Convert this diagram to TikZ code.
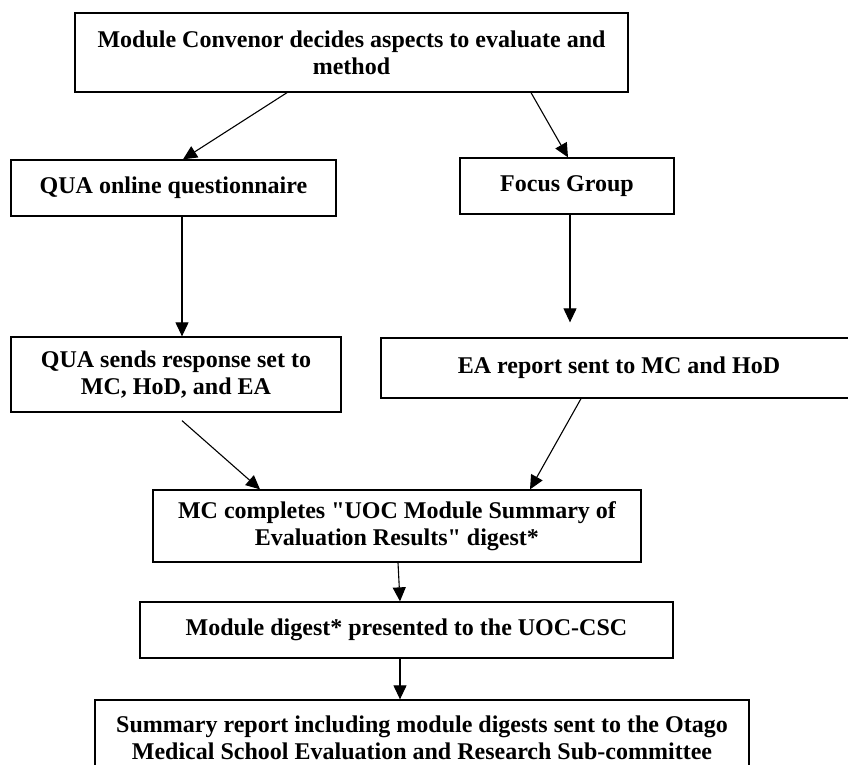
\documentclass[tikz,border=0pt]{standalone}
\usepackage{fontspec}
\setmainfont{Liberation Serif}[Ligatures=TeXOff]
\usetikzlibrary{arrows.meta,calc}
\tikzset{
  box/.style={draw, line width=1.3pt, inner sep=0pt, align=center,
    font=\fontsize{24}{27}\selectfont\bfseries},
  arr/.style={line width=1.1pt, -{Triangle[length=14pt,width=13pt]}}
}
\begin{document}
\begin{tikzpicture}[x=1pt,y=-1pt]
\path[use as bounding box, clip] (0,0) rectangle (848,764);
\fill[white] (0,0) rectangle (848,764);
\node[box, minimum width=553pt, minimum height=79pt] (top) at (351.5,52.5)
  {Module Convenor decides aspects to evaluate and\\method};
\node[box, minimum width=325pt, minimum height=56pt] (qua) at (173.5,188)
  {QUA online questionnaire};
\node[box, minimum width=214pt, minimum height=56pt] (focus) at (567,186)
  {Focus Group};
\node[box, minimum width=330pt, minimum height=75pt] (quas) at (176,374.5)
  {QUA sends response set to\\MC, HoD, and EA};
\node[box, minimum width=476pt, minimum height=60pt] (ea) at (619,368)
  {EA report sent to MC and HoD};
\node[box, minimum width=488pt, minimum height=72pt] (mc) at (397,526)
  {MC completes "UOC Module Summary of\\Evaluation Results" digest*};
\node[box, minimum width=533pt, minimum height=56pt] (dig) at (406.5,630)
  {Module digest* presented to the UOC-CSC};
\node[box, minimum width=654pt, minimum height=76pt] (sum) at (422,738)
  {Summary report including module digests sent to the Otago\\Medical School Evaluation and Research Sub-committee};
\coordinate (fend) at ([xshift=-49pt,yshift=15pt]ea.north);
\coordinate (qstart) at ([xshift=6pt,yshift=-8pt]quas.south);
\draw[arr] ([xshift=-64.5pt]top.south) -- ([xshift=9.5pt]qua.north);
\draw[arr] ([xshift=179.5pt]top.south) -- ([xshift=1pt]focus.north);
\draw[arr] ([xshift=8.5pt]qua.south) -- ([xshift=6pt]quas.north);
\draw[arr] ([xshift=3pt]focus.south) -- (fend);
\draw[arr] (qstart) -- ([xshift=-137pt]mc.north);
\draw[arr] ([xshift=-38pt]ea.south) -- ([xshift=133pt]mc.north);
\draw[arr] ([xshift=1pt]mc.south) -- ([xshift=-6.5pt]dig.north);
\draw[arr] ([xshift=-6.5pt]dig.south) -- ([xshift=-22pt]sum.north);
\end{tikzpicture}
\end{document}
